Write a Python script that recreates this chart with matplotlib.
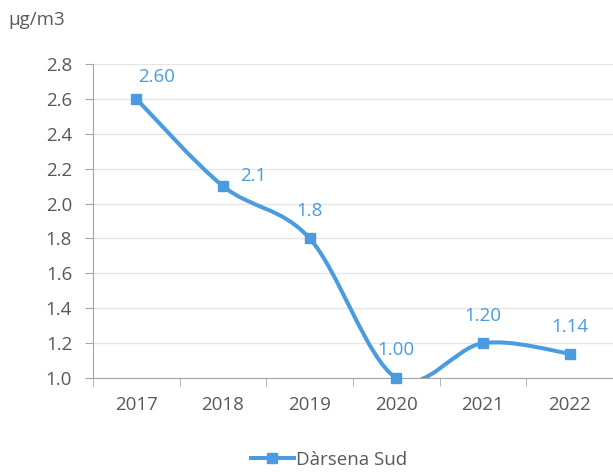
import numpy as np
import matplotlib.pyplot as plt
from matplotlib.path import Path
from matplotlib.patches import PathPatch
from matplotlib.lines import Line2D

years = ['2017', '2018', '2019', '2020', '2021', '2022']
values = [2.60, 2.10, 1.80, 1.00, 1.20, 1.14]
value_labels = ['2.60', '2.1', '1.8', '1.00', '1.20', '1.14']
label_offsets = [(20, 22), (30, 10), (0, 27), (0, 28), (0, 27), (0, 27)]

blue = '#4a9be0'
text_gray = '#595959'
plt.rcParams['font.family'] = ['Open Sans', 'DejaVu Sans']

fig = plt.figure(figsize=(6.13, 4.73), dpi=100)
ax = fig.add_axes([93 / 613, 1 - 378 / 473, 1 - 93 / 613, (378 - 64) / 473])

x = np.arange(len(values))
y = np.array(values)

# smoothed line (Excel-like bezier through the points)
pts = np.column_stack([x, y])
verts = [tuple(pts[0])]
codes = [Path.MOVETO]
n = len(pts)
for i in range(n - 1):
    p0 = pts[max(i - 1, 0)]
    p1 = pts[i]
    p2 = pts[i + 1]
    p3 = pts[min(i + 2, n - 1)]
    c1 = p1 + (p2 - p0) / 6
    c2 = p2 - (p3 - p1) / 6
    verts += [tuple(c1), tuple(c2), tuple(p2)]
    codes += [Path.CURVE4] * 3
ax.add_patch(PathPatch(Path(verts, codes), fill=False, edgecolor=blue, lw=2.9, zorder=3))
ax.plot(x, y, 's', color=blue, ms=7.5, zorder=4, clip_on=False)

for xi, yi, lab, off in zip(x, y, value_labels, label_offsets):
    ax.annotate(lab, (xi, yi), xytext=off, textcoords='offset pixels',
                ha='center', va='center', color=blue, fontsize=13.5)

ax.set_xlim(-0.5, 5.456)
ax.set_ylim(1.0, 2.8)
ax.set_yticks(np.arange(1.0, 2.81, 0.2))
ax.set_yticklabels([f'{v:.1f}' for v in np.arange(1.0, 2.81, 0.2)])
ax.set_xticks(x)
ax.set_xticklabels(years)
ax.set_xticks(np.arange(-0.5, 6, 1), minor=True)
ax.tick_params(axis='x', which='major', length=0, pad=13)
ax.tick_params(axis='x', which='minor', length=6, color='#a6a6a6', direction='out')
ax.tick_params(axis='y', length=6, color='#a6a6a6', pad=9)
ax.tick_params(labelsize=13.5, labelcolor=text_gray)
ax.grid(axis='y', color='#e6e6e6', lw=1, zorder=0)
for s in ['top', 'right']:
    ax.spines[s].set_visible(False)
for s in ['left', 'bottom']:
    ax.spines[s].set_color('#a6a6a6')

fig.text(8 / 613, 1 - 20 / 473, 'µg/m3', fontsize=13.5, color=text_gray, va='center')

handle = Line2D([], [], color=blue, lw=2.9, marker='s', ms=7.5)
fig.legend([handle], ['Dàrsena Sud'], loc='center', bbox_to_anchor=(0.536, 1 - 460 / 473),
           frameon=False, fontsize=13.5, labelcolor=text_gray, handlelength=2.3,
           handletextpad=0.1)

fig.savefig('out.png', dpi=100)
